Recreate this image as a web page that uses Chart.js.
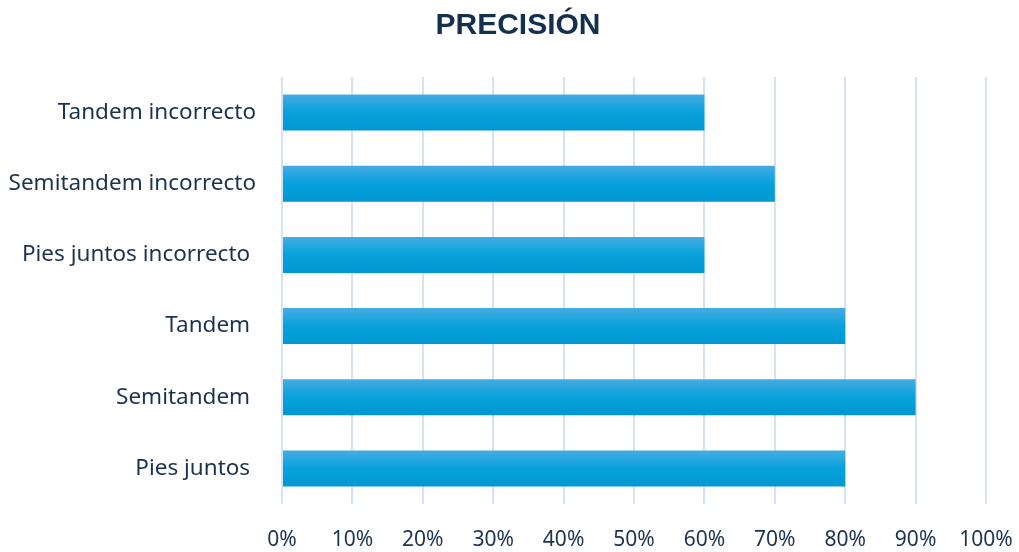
<!DOCTYPE html>
<html>
<head>
<meta charset="utf-8">
<title>Precisión</title>
<script src="https://cdn.jsdelivr.net/npm/chart.js@4"></script>
<style>
    html, body { margin: 0; padding: 0; background: #fff; }
    #wrap { width: 1019px; height: 552px; }
</style>
</head>
<body>
<div id="wrap"><canvas id="chart"></canvas></div>
<script>
// Categories, top to bottom
const categories = [
    'Tandem incorrecto',
    'Semitandem incorrecto',
    'Pies juntos incorrecto ',
    'Tandem ',
    'Semitandem ',
    'Pies juntos '
];
// Percent values per category
const values = [60, 70, 60, 80, 90, 80];
const tickStep = 10;

const textColor = '#1c3350';
const gridColor = '#d3e2f4';
const BAR_PCT = 0.507;

// vertical gradient for each bar, built from the category scale
function barFill(ctx) {
    const chart = ctx.chart;
    const y = chart.scales && chart.scales.y;
    if (!chart.chartArea || !y || ctx.dataIndex === undefined) return '#0aa0da';
    const center = y.getPixelForValue(ctx.dataIndex);
    const h = (chart.chartArea.bottom - chart.chartArea.top) / categories.length * BAR_PCT;
    const top = center - h / 2;
    const g = chart.ctx.createLinearGradient(0, top, 0, top + h);
    g.addColorStop(0, '#46ace3');
    g.addColorStop(0.5, '#06a1dc');
    g.addColorStop(1, '#0097d2');
    return g;
}

// nudge the title a bit right of the canvas centre
const titleShift = {
    id: 'titleShift',
    afterLayout(chart) {
        const t = chart.titleBlock;
        if (t) { t.left += 25; t.right += 25; }
    }
};

new Chart(document.getElementById('chart'), {
    type: 'bar',
    data: {
        labels: categories,
        datasets: [{
            data: values,
            backgroundColor: barFill,
            borderWidth: 0,
            barPercentage: BAR_PCT,
            categoryPercentage: 1
        }]
    },
    options: {
        indexAxis: 'y',
        responsive: true,
        maintainAspectRatio: false,
        animation: false,
        layout: { padding: { top: 0, right: 33, bottom: 0, left: 0 } },
        plugins: {
            legend: { display: false },
            tooltip: { enabled: false },
            title: {
                display: true,
                text: 'PRECISIÓN',
                color: '#14304f',
                font: { family: 'Liberation Sans', size: 30, weight: 'bold' },
                padding: { top: 8, bottom: 33 }
            }
        },
        scales: {
            x: {
                min: 0,
                max: 100,
                ticks: {
                    stepSize: tickStep,
                    color: textColor,
                    font: { family: 'Noto Sans', size: 21 },
                    padding: 23,
                    maxRotation: 0,
                    callback: v => v + '%'
                },
                grid: { color: gridColor, lineWidth: 2, drawTicks: false },
                border: { display: false },
                afterFit: scale => {
                    scale.height = 48;
                    scale.paddingLeft = 0;
                    scale.paddingRight = 0;
                }
            },
            y: {
                ticks: {
                    color: textColor,
                    font: { family: 'Noto Sans', size: 22.5 },
                    padding: 26
                },
                grid: { display: false, drawTicks: false },
                border: { display: false },
                afterFit: scale => {
                    scale.width = 282;
                    scale.paddingTop = 0;
                    scale.paddingBottom = 0;
                }
            }
        }
    },
    plugins: [titleShift]
});
</script>
</body>
</html>
